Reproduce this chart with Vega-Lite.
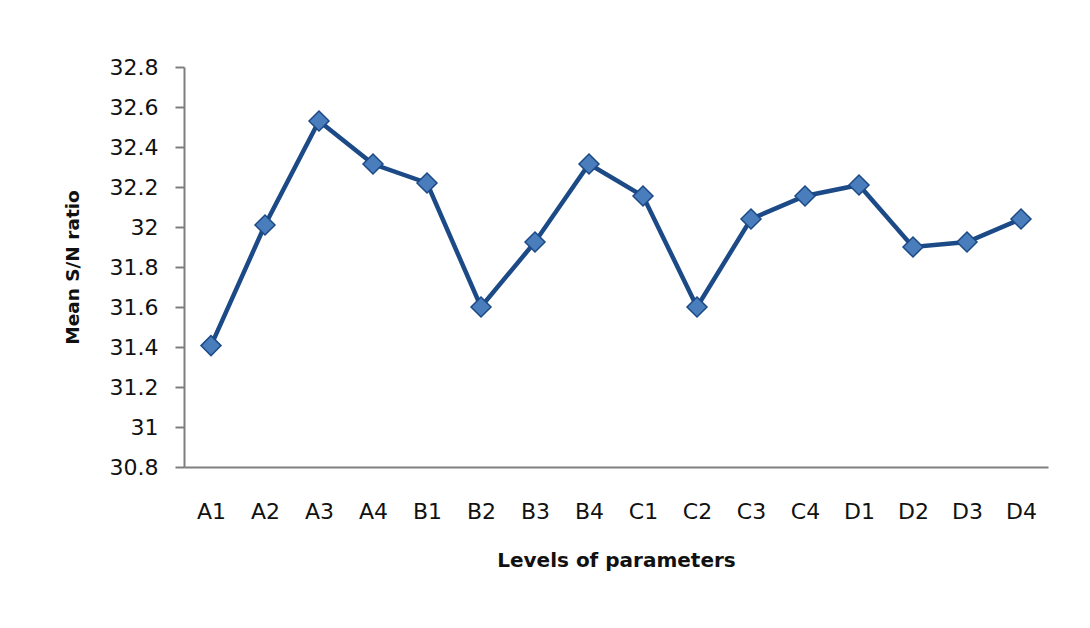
{
  "$schema": "https://vega.github.io/schema/vega-lite/v6.json",
  "autosize": "none",
  "width": 864,
  "height": 400,
  "padding": {"left": 184, "top": 67, "right": 42, "bottom": 161},
  "background": "white",
  "config": {"view": {"stroke": null}},
  "data": {
    "values": [
      {"level": "A1", "sn": 31.407},
      {"level": "A2", "sn": 32.01},
      {"level": "A3", "sn": 32.53},
      {"level": "A4", "sn": 32.315},
      {"level": "B1", "sn": 32.22},
      {"level": "B2", "sn": 31.6},
      {"level": "B3", "sn": 31.925},
      {"level": "B4", "sn": 32.315},
      {"level": "C1", "sn": 32.155},
      {"level": "C2", "sn": 31.6},
      {"level": "C3", "sn": 32.04},
      {"level": "C4", "sn": 32.155},
      {"level": "D1", "sn": 32.21},
      {"level": "D2", "sn": 31.9},
      {"level": "D3", "sn": 31.925},
      {"level": "D4", "sn": 32.04}
    ]
  },
  "encoding": {
    "x": {
      "field": "level",
      "type": "ordinal",
      "sort": null,
      "scale": {"type": "point", "padding": 0.5},
      "axis": {
        "title": "Levels of parameters",
        "labelAngle": 0,
        "ticks": false,
        "labelPadding": 34,
        "labelFont": "DejaVu Sans",
        "labelFontSize": 22,
        "labelColor": "#111111",
        "domainColor": "#7f7f7f",
        "domainWidth": 2,
        "titleFont": "DejaVu Sans",
        "titleFontSize": 20,
        "titleFontWeight": "bold",
        "titleColor": "#111111",
        "titlePadding": 28,
        "grid": false
      }
    },
    "y": {
      "field": "sn",
      "type": "quantitative",
      "scale": {"domain": [30.8, 32.8], "zero": false, "nice": false},
      "axis": {
        "title": "Mean S/N  ratio",
        "values": [30.8, 31, 31.2, 31.4, 31.6, 31.8, 32, 32.2, 32.4, 32.6, 32.8],
        "format": ".1~f",
        "tickSize": 9,
        "tickColor": "#7f7f7f",
        "tickWidth": 2,
        "domainColor": "#7f7f7f",
        "domainWidth": 2,
        "labelPadding": 17,
        "labelFont": "DejaVu Sans",
        "labelFontSize": 22,
        "labelColor": "#111111",
        "titleFont": "DejaVu Sans",
        "titleFontSize": 18.5,
        "titleFontWeight": "bold",
        "titleColor": "#111111",
        "titlePadding": 27,
        "grid": false
      }
    }
  },
  "layer": [
    {"mark": {"type": "line", "color": "#1c4a87", "strokeWidth": 4.5}},
    {"mark": {"type": "point", "shape": "diamond", "size": 400, "filled": true, "fill": "#4a7dbb", "stroke": "#1c4a87", "strokeWidth": 1.5, "opacity": 1}}
  ]
}
